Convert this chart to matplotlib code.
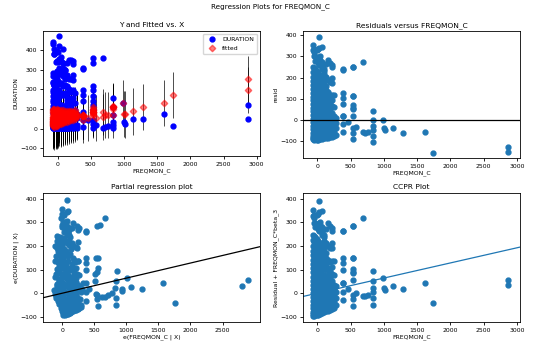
import numpy as np
import matplotlib
matplotlib.use('Agg')
import matplotlib.pyplot as plt

# FREQMON_C values (one column of observations per value), with the fitted
# value and the residual of each observation, read off the four panels
col_x = [-70, -50, -30, -10, 10, 25, 45, 75, 105, 135, 165, 195, 225, 255, 285,
         385, 460, 535, 580, 680, 720, 760, 830, 980, 995, 1010, 1130, 1280,
         1610, 1740, 2870]

col_resid = [
    [-92, -85, -74, -60, -45, -30, -12, 5, 22, 40, 58, 75, 92, 110, 128, 146, 165, 185, 205, 228, 250, 330, 355],
    [-95, -88, -78, -65, -50, -35, -20, -3, 15, 33, 50, 68, 86, 104, 122, 140, 158, 178, 198, 220, 245, 300, 320, 335],
    [-90, -80, -68, -55, -40, -25, -8, 10, 28, 46, 64, 82, 100, 118, 136, 155, 175, 195, 215, 240, 280, 300],
    [-93, -84, -72, -58, -42, -26, -10, 8, 26, 44, 62, 80, 98, 116, 134, 152, 172, 192, 212, 232, 290, 330],
    [-94, -82, -70, -55, -38, -20, -2, 16, 34, 52, 70, 88, 106, 124, 142, 160, 180, 200, 222, 270, 335],
    [390, 340, 295, 260, -90, -60, 150, 60],
    [-90, -78, -62, -45, -28, -10, 8, 26, 44, 62, 80, 98, 118, 140, 162, 185, 210, 285, 300],
    [-88, -75, -58, -40, -22, -4, 14, 32, 52, 72, 95, 120, 150, 175, 200, 240, 250, 260, 275, 345],
    [-86, -70, -52, -35, -15, 5, 25, 48, 70, 100, 130, 160, 180, 215, 230, 240],
    [-85, -68, -50, -30, -10, 12, 35, 60, 90, 115, 140, 160, 200, 205, 265],
    [-84, -66, -48, -28, -8, 15, 40, 65, 95, 130, 190, 285],
    [-82, -62, -42, -20, 2, 25, 50, 80, 120, 180, 270],
    [-80, -60, -38, -15, 10, 35, 65, 95, 120, 175, 250, 260, 200],
    [-78, -55, -30, -5, 20, 60, 120, 0],
    [-70, -40, -15, 10],
    [240, 237, 125, 105, 75, 20, 20, -20, -55],
    [-10],
    [250, 250, 115, 115, 70, 55, 50, 20, -40, -60, -90],
    [-35],
    [275, -55],
    [-60],
    [-55],
    [40, 0, -30, -50, -75, -105],
    [0],
    [-40],
    [-50],
    [-40],
    [-63],
    [-58],
    [-155],
    [-130, -150],
]

col_fitted = [
    [95, 90, 80, 70, 60, 50, 30, 20, 15, 40, 55, 25, 45, 35, 60, 20, 30, 50, 25, 40, 35, 100, 85],
    [100, 92, 85, 75, 60, 45, 35, 25, 10, 30, 50, 70, 20, 40, 55, 30, 65, 45, 25, 60, 35, 80, 60, 70],
    [95, 85, 75, 65, 50, 40, 15, 30, 60, 20, 45, 75, 35, 50, 25, 65, 40, 55, 30, 45, 60, 90],
    [98, 88, 78, 62, 48, 30, 20, 12, 35, 65, 25, 50, 80, 30, 55, 40, 70, 35, 50, 60, 55, 65],
    [97, 86, 75, 60, 45, 28, 18, 40, 70, 30, 55, 85, 45, 60, 35, 75, 50, 40, 65, 70, 55],
    [80, 80, 60, 50, 95, 70, 45, 30],
    [95, 82, 70, 55, 35, 25, 45, 75, 30, 60, 40, 85, 55, 35, 65, 45, 70, 60, 65],
    [92, 80, 62, 45, 30, 50, 75, 35, 60, 40, 80, 50, 65, 45, 70, 55, 60, 75, 60, 62],
    [90, 75, 58, 40, 55, 80, 35, 65, 45, 70, 50, 60, 75, 55, 70, 60],
    [90, 72, 55, 35, 60, 80, 45, 70, 55, 65, 75, 50, 65, 70, 70],
    [88, 70, 55, 40, 65, 85, 50, 75, 60, 70, 60, 65],
    [88, 68, 50, 60, 80, 45, 70, 55, 65, 75, 80],
    [85, 65, 45, 60, 80, 55, 70, 60, 75, 70, 80, 85, 75],
    [85, 65, 50, 75, 60, 70, 60, 95],
    [75, 60, 70, 65],
    [70, 68, 70, 65, 65, 65, 45, 65, 65],
    [55],
    [110, 85, 100, 80, 95, 85, 70, 75, 85, 85, 95],
    [55],
    [85, 60],
    [70],
    [70],
    [115, 110, 100, 70, 110, 110],
    [130],
    [75],
    [72],
    [87],
    [110],
    [130],
    [170],
    [250, 197],
]

beta_3 = 0.064        # FREQMON_C coefficient
pred_halfwidth = 118  # half width of the prediction interval

x = np.concatenate([[cx] * len(r) for cx, r in zip(col_x, col_resid)]).astype(float)
resid = np.concatenate(col_resid).astype(float)
fitted = np.concatenate(col_fitted).astype(float)
duration = fitted + resid

# partial regression: residual of FREQMON_C on the other regressors
other = fitted - beta_3 * x
e_x = x + 1.8 * (other - 50)
e_y = resid + beta_3 * e_x

fs = 4.4
tfs = 5.4
ms = 3.5

fig = plt.figure(figsize=(5.4, 3.45), dpi=100)
fig.suptitle('Regression Plots for FREQMON_C', fontsize=5.2, y=0.99)


def style(ax):
    ax.tick_params(labelsize=fs, length=2.5, width=0.6, pad=1.5)
    for s in ax.spines.values():
        s.set_linewidth(0.6)


# Y and fitted vs X
ax = fig.add_axes([0.0796, 0.5478, 0.4019, 0.3623])
ax.vlines(x, fitted - pred_halfwidth, fitted + pred_halfwidth, color='k', lw=0.7, alpha=0.7, zorder=1)
ax.plot(x, duration, 'bo', ms=ms, label='DURATION', zorder=2)
ax.plot(x, fitted, 'D', color='r', alpha=0.5, ms=3.3, label='fitted', zorder=3)
ax.legend(loc='upper right', fontsize=fs, borderpad=0.5, handletextpad=0.6, labelspacing=0.6)
ax.set_title('Y and Fitted vs. X', fontsize=tfs, pad=3)
ax.set_xlabel('FREQMON_C', fontsize=fs, labelpad=1.5)
ax.set_ylabel('DURATION', fontsize=fs, labelpad=1.5)
ax.set_xlim(-220, 3050)
ax.set_ylim(-140, 497)
ax.set_xticks(np.arange(0, 3001, 500))
ax.set_yticks(np.arange(-100, 401, 100))
style(ax)

# residuals
ax = fig.add_axes([0.5611, 0.5420, 0.4019, 0.3681])
ax.plot(x, resid, 'o', ms=ms)
ax.axhline(0, color='k', lw=0.9)
ax.set_title('Residuals versus FREQMON_C', fontsize=tfs, pad=3)
ax.set_xlabel('FREQMON_C', fontsize=fs, labelpad=1.5)
ax.set_ylabel('resid', fontsize=fs, labelpad=1.5)
ax.set_xlim(-218, 3047)
ax.set_ylim(-180, 420)
ax.set_xticks(np.arange(0, 3001, 500))
ax.set_yticks(np.arange(-100, 401, 100))
style(ax)

# partial regression
ax = fig.add_axes([0.0796, 0.0667, 0.4019, 0.3739])
ax.plot(e_x, e_y, 'o', ms=ms)
xl = np.array([-300, 3084])
ax.plot(xl, beta_3 * xl, 'k-', lw=0.9)
ax.set_title('Partial regression plot', fontsize=tfs, pad=3)
ax.set_xlabel('e(FREQMON_C | X)', fontsize=fs, labelpad=1.5)
ax.set_ylabel('e(DURATION | X)', fontsize=fs, labelpad=1.5)
ax.set_xlim(*xl)
ax.set_ylim(-122, 425)
ax.set_xticks(np.arange(0, 2501, 500))
ax.set_yticks(np.arange(-100, 401, 100))
style(ax)

# CCPR
ax = fig.add_axes([0.5611, 0.0667, 0.4019, 0.3739])
ax.plot(x, resid + beta_3 * x, 'o', ms=ms)
xl = np.array([-218, 3047])
ax.plot(xl, beta_3 * xl, '-', color='C0', lw=0.9)
ax.set_title('CCPR Plot', fontsize=tfs, pad=3)
ax.set_xlabel('FREQMON_C', fontsize=fs, labelpad=1.5)
ax.set_ylabel('Residual + FREQMON_C*beta_3', fontsize=fs, labelpad=1.5)
ax.set_xlim(*xl)
ax.set_ylim(-122, 424)
ax.set_xticks(np.arange(0, 3001, 500))
ax.set_yticks(np.arange(-100, 401, 100))
style(ax)

fig.savefig('out.png', dpi=100)
